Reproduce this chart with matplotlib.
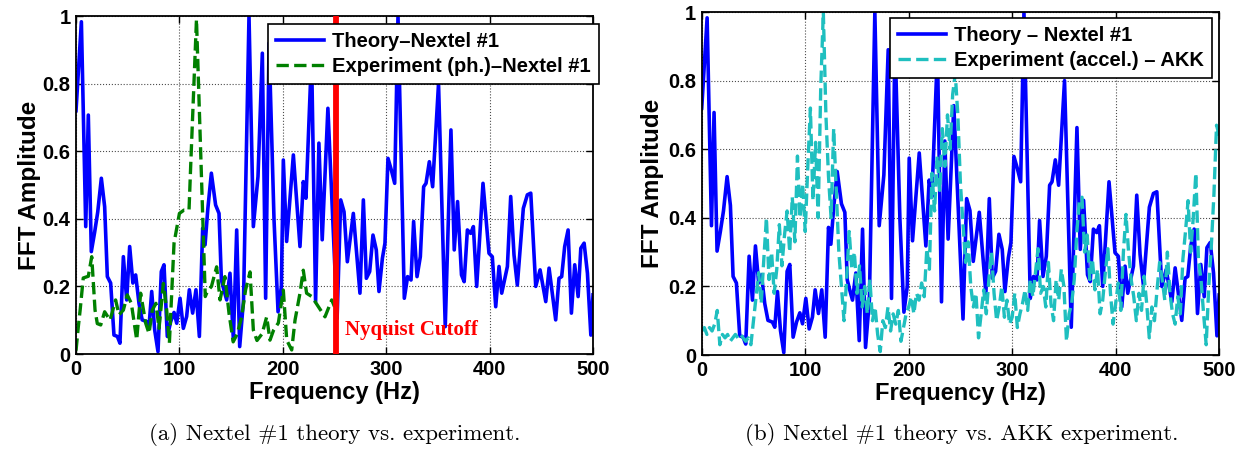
import numpy as np
import matplotlib.pyplot as plt

# theory curve (same in both panels)
theory_freq = [0, 5.2, 9.4, 11.9, 14.8, 18, 21, 24.5, 27.7, 30.3, 33.5, 36.7, 40, 42.5,
               45.8, 49, 51.9, 55, 57.7, 60.9, 64, 68.3, 70.6, 73.2, 76.1, 79.3, 82.5,
               85.1, 88.3, 91.6, 94.8, 97.4, 100.6, 103.8, 107, 109.6, 112.8, 116, 119.3,
               122.5, 124.8, 127.5, 130.9, 135, 138.3, 140.6, 143, 145.7, 148.9, 152.2,
               155.4, 158.3, 162, 167.3, 171.5, 176, 180.2, 183.4, 186.7, 191.5, 195.4,
               198.6, 200.5, 203.7, 210.2, 216.6, 219.8, 222.4, 227.8, 231.7, 234.9,
               238.1, 243.6, 252.5, 256, 259.2, 262.4, 268.2, 274.6, 277.9, 280.8, 284,
               287.2, 290.4, 293, 296.3, 298.8, 301.7, 304.9, 308.2, 311.4, 317.5, 320.7,
               324, 326.5, 329.8, 333, 336.2, 338.5, 341.7, 344.9, 350.6, 357.1, 362.6,
               365.8, 369, 372.8, 375.4, 378.5, 381.7, 384.3, 387.5, 393.6, 399.4, 402.6,
               405.9, 409.1, 411.7, 417.2, 420.4, 423.6, 426.8, 432.6, 436.5, 439.8,
               444.6, 448.8, 454.3, 457.5, 463.9, 467.1, 469.7, 472.6, 475.9, 479.1,
               482.3, 485.6, 488.2, 491.4, 494.6, 497.9, 500]
theory_amp = [0.72, 0.983, 0.377, 0.707, 0.303, 0.36, 0.42, 0.52, 0.436, 0.229, 0.21, 0.056,
              0.052, 0.032, 0.288, 0.16, 0.318, 0.21, 0.234, 0.15, 0.101, 0.096, 0.081,
              0.185, 0.071, 0.007, 0.244, 0.264, 0.052, 0.096, 0.123, 0.091, 0.165, 0.076,
              0.111, 0.19, 0.121, 0.19, 0.052, 0.372, 0.323, 0.43, 0.535, 0.441, 0.416,
              0.219, 0.19, 0.16, 0.239, 0.042, 0.367, 0.022, 0.16, 1.0, 0.377, 0.525, 0.89,
              0.165, 0.92, 0.397, 0.125, 0.2, 0.574, 0.333, 0.589, 0.318, 0.51, 0.461,
              0.885, 0.155, 0.624, 0.338, 0.727, 0.105, 0.456, 0.421, 0.273, 0.416, 0.18,
              0.456, 0.224, 0.244, 0.352, 0.308, 0.185, 0.283, 0.328, 0.579, 0.545, 0.505,
              1.0, 0.165, 0.229, 0.219, 0.392, 0.229, 0.288, 0.495, 0.505, 0.569, 0.495,
              0.80, 0.081, 0.663, 0.308, 0.451, 0.234, 0.214, 0.367, 0.357, 0.377, 0.2,
              0.505, 0.298, 0.288, 0.14, 0.259, 0.18, 0.259, 0.466, 0.293, 0.204, 0.431,
              0.471, 0.476, 0.2, 0.249, 0.155, 0.254, 0.101, 0.224, 0.229, 0.318, 0.367,
              0.121, 0.264, 0.17, 0.313, 0.328, 0.239, 0.056, 0.175]

# photogrammetry experiment, Nextel #1 (stops at Nyquist)
ph_freq = [0, 2.2, 4, 7, 11.9, 15.2, 18.4, 20.6, 23.9, 27.7, 32.9, 38.3, 41.6, 45.8, 49.6,
           53.5, 58.7, 62.5, 67.4, 70.6, 73.8, 77.3, 80.3, 84.5, 87.7, 90.3, 94.8, 100,
           104.5, 109.3, 111, 116.5, 125, 127, 131, 136, 139.3, 144, 148, 152, 156, 160.2,
           164, 168.3, 171.5, 175, 180, 184.4, 187.6, 191, 195.7, 200.5, 203.8, 208.6,
           211.8, 216.6, 219.8, 223, 228, 234.4, 240.8, 247.3, 250]
ph_amp = [0.01, 0.08, 0.13, 0.225, 0.23, 0.288, 0.13, 0.09, 0.086, 0.125, 0.1, 0.16, 0.116,
          0.13, 0.175, 0.15, 0.042, 0.18, 0.091, 0.061, 0.13, 0.15, 0.076, 0.209, 0.13,
          0.032, 0.328, 0.416, 0.426, 0.426, 0.564, 0.99, 0.17, 0.185, 0.2, 0.258, 0.16,
          0.229, 0.12, 0.036, 0.06, 0.11, 0.19, 0.243, 0.071, 0.04, 0.06, 0.11, 0.041,
          0.07, 0.092, 0.189, 0.041, 0.012, 0.1, 0.18, 0.248, 0.18, 0.17, 0.14, 0.11,
          0.16, 0.14]

# accelerometer experiment, AKK (every 2.5 Hz from 0 to 500)
akk_amp = [0.07, 0.08, 0.06, 0.08, 0.07, 0.09, 0.13, 0.03, 0.06, 0.05,
           0.06, 0.04, 0.05, 0.06, 0.05, 0.06, 0.05, 0.04, 0.05, 0.03,
           0.10, 0.17, 0.24, 0.15, 0.28, 0.40, 0.22, 0.30, 0.18, 0.25,
           0.38, 0.26, 0.35, 0.42, 0.30, 0.46, 0.33, 0.58, 0.40, 0.50,
           0.36, 0.55, 0.72, 0.45, 0.62, 0.40, 0.78, 1.00, 0.70, 0.52,
           0.40, 0.66, 0.48, 0.30, 0.20, 0.10, 0.22, 0.36, 0.25, 0.30,
           0.18, 0.26, 0.14, 0.20, 0.12, 0.22, 0.10, 0.14, 0.06, 0.01,
           0.10, 0.08, 0.14, 0.07, 0.12, 0.09, 0.13, 0.04, 0.08, 0.12,
           0.14, 0.17, 0.12, 0.18, 0.16, 0.21, 0.17, 0.31, 0.25, 0.53,
           0.42, 0.58, 0.48, 0.66, 0.55, 0.70, 0.60, 0.76, 0.82, 0.70,
           0.50, 0.38, 0.27, 0.33, 0.20, 0.14, 0.18, 0.05, 0.12, 0.19,
           0.12, 0.22, 0.30, 0.18, 0.10, 0.14, 0.20, 0.11, 0.16, 0.09,
           0.11, 0.18, 0.08, 0.12, 0.15, 0.19, 0.13, 0.22, 0.17, 0.24,
           0.31, 0.18, 0.20, 0.14, 0.27, 0.15, 0.10, 0.22, 0.16, 0.25,
           0.20, 0.04, 0.12, 0.15, 0.22, 0.36, 0.45, 0.46, 0.30, 0.35,
           0.22, 0.28, 0.19, 0.25, 0.12, 0.16, 0.24, 0.31, 0.18, 0.09,
           0.15, 0.21, 0.13, 0.30, 0.41, 0.30, 0.22, 0.17, 0.10, 0.18,
           0.13, 0.23, 0.15, 0.05, 0.14, 0.10, 0.19, 0.27, 0.22, 0.16,
           0.30, 0.18, 0.12, 0.09, 0.17, 0.12, 0.28, 0.36, 0.45, 0.30,
           0.40, 0.53, 0.28, 0.22, 0.12, 0.03, 0.20, 0.32, 0.47, 0.67,
           0.64]
akk_freq = np.linspace(0, 500, len(akk_amp))

nyquist = 251

x_ticks = [0, 100, 200, 300, 400, 500]
y_ticks = [0, 0.2, 0.4, 0.6, 0.8, 1]
y_ticklabels = ['0', '0.2', '0.4', '0.6', '0.8', '1']

plt.rcParams['font.family'] = 'Liberation Sans'
plt.rcParams['font.weight'] = 'bold'


def style_axes(ax):
    ax.set_xlim(0, 500)
    ax.set_ylim(0, 1)
    ax.set_xticks(x_ticks)
    ax.set_yticks(y_ticks)
    ax.set_yticklabels(y_ticklabels)
    ax.grid(True, color='k', linestyle=':', linewidth=0.8, alpha=0.7)
    ax.tick_params(direction='in', top=True, right=True, length=5, width=1,
                   labelsize=14.5, pad=4)
    for s in ax.spines.values():
        s.set_linewidth(1.3)
    ax.set_xlabel('Frequency (Hz)', fontsize=17, fontweight='bold')
    ax.set_ylabel('FFT Amplitude', fontsize=17.5, fontweight='bold')
    ax.xaxis.set_label_coords(0.5, -0.08)


def add_legend(ax, anchor, loc):
    leg = ax.legend(loc=loc, bbox_to_anchor=anchor, bbox_transform=fig.transFigure,
                    borderaxespad=0, fontsize=14.5, fancybox=False, framealpha=1,
                    edgecolor='k', handlelength=2.4, labelspacing=0.3,
                    borderpad=0.4, handletextpad=0.4)
    leg.get_frame().set_linewidth(1.2)
    leg.set_zorder(10)
    return leg


fig = plt.figure(figsize=(12.44, 4.53), dpi=100)
ax1 = fig.add_axes([0.0611, 0.2185, 0.4156, 0.7461])
ax2 = fig.add_axes([0.5641, 0.2163, 0.4159, 0.7572])

# (a) theory vs photogrammetry
ax1.plot(theory_freq, theory_amp, color='#0000ff', linewidth=2.6, label='Theory–Nextel #1')
ax1.plot(ph_freq, ph_amp, color='#008000', linestyle='--', linewidth=2.4,
         label='Experiment (ph.)–Nextel #1')
ax1.axvline(nyquist, color='#ff0000', linewidth=4.2, zorder=5)
ax1.text(nyquist + 9, 0.07, 'Nyquist Cutoff', color='#ff0000', fontsize=15,
         fontweight='bold', family='Liberation Serif', va='center')
style_axes(ax1)
ax1.yaxis.set_label_coords(-0.068, 0.5)
add_legend(ax1, (0.2152, 0.947), 'upper left')

# (b) theory vs accelerometer
ax2.plot(theory_freq, theory_amp, color='#0000ff', linewidth=2.6, label='Theory – Nextel #1')
ax2.plot(akk_freq, akk_amp, color='#1fbfbf', linestyle='--', linewidth=2.4,
         label='Experiment (accel.) – AKK')
style_axes(ax2)
ax2.yaxis.set_label_coords(-0.073, 0.5)
add_legend(ax2, (0.9743, 0.9603), 'upper right')

fig.text(335 / 1244, 1 - 435 / 453, '(a) Nextel #1 theory vs. experiment.',
         family='cmr10', fontweight='normal', fontsize=16.5, ha='center', va='center')
fig.text(962 / 1244, 1 - 435 / 453, '(b) Nextel #1 theory vs. AKK experiment.',
         family='cmr10', fontweight='normal', fontsize=16.5, ha='center', va='center')

plt.savefig('out.png', dpi=100)
